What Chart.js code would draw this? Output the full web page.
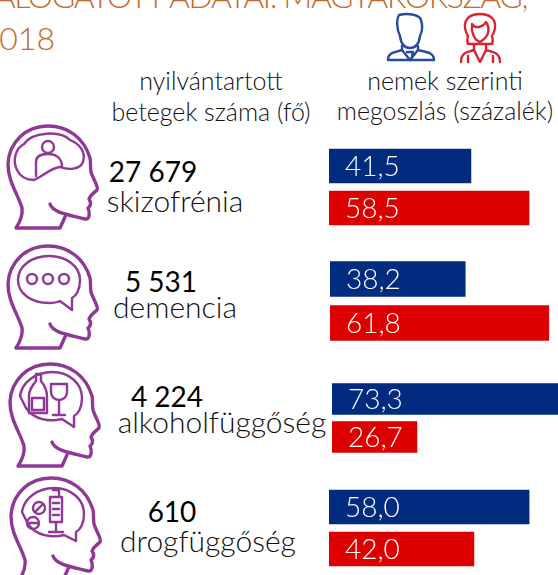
<!DOCTYPE html>
<html lang="hu">
<head>
<meta charset="utf-8">
<title>Nyilvántartott betegek</title>
<script src="https://cdn.jsdelivr.net/npm/chart.js@4/dist/chart.umd.min.js"></script>
<style>
    html, body { margin: 0; padding: 0; background: #fff; }
    #page { position: relative; width: 558px; height: 575px; overflow: hidden; }
    #page canvas { position: absolute; }
    #art { position: absolute; left: 0; top: 0; }
    #art text { font-family: Lato, "Open Sans", sans-serif; font-weight: 300; fill: #111; }
    #art text.title { fill: #c5692a; font-size: 32px; }
    #art text.title.first { letter-spacing: -1.4px; }
    #art text.head { font-size: 25px; }
    #art text.count { font-size: 28px; font-weight: 400; fill: #000; }
    #art text.name { font-size: 30px; }
    .ln { fill: none; stroke-width: 2.4; stroke-linejoin: round; stroke-linecap: round; }
    .purple { stroke: #8f3896; }
    .purple .thick { stroke-width: 3.4; }
</style>
</head>
<body>
<div id="page">
    <svg id="art" width="558" height="575" xmlns="http://www.w3.org/2000/svg">
        <defs>
            <!-- head outline shared by the four icons -->
            <g id="headShape" class="ln purple">
                <path class="thick" d="M50 84 C53 93 70 95 85 99 C90 100 90 92 88 88 C92 85 91 82 89 79 C90 75 93 74 97 70 C99 67 93 59 91 52 C90 47 91 42 90 38 C84 18 68 6 48 6 C26 6 9 22 8 44 C8 62 18 74 22 88 C23 96 20 102 16 108 H60 L65 97"/>
            </g>
        </defs>

        <!-- clipped title -->
        <text class="title first" x="527" y="8" text-anchor="end">VÁLOGATOTT ADATAI: MAGYARORSZÁG,</text>
        <text class="title" x="55" y="50" text-anchor="end">2018</text>

        <!-- man and woman icons -->
        <g class="ln" stroke="#2a4a9c">
            <path d="M399 15 C407 13 419 14 421 20 C423 26 422 32 420 36 C419 44 415 48 410 48 C405 48 401 44 400 36 C397 30 396 20 399 15 Z"/>
            <path d="M402 46 L402 50 C396 52 388 52 388 60 L434 60 C434 52 425 52 418 50 L418 46"/>
            <path d="M402 50 L410 60 L418 50 M407 52 H413 L411 60"/>
        </g>
        <g class="ln" stroke="#d9232e">
            <path d="M468 36 C462 26 464 14 480 14 C496 14 498 26 492 36 C493 40 493 42 492 44 L468 44 C467 42 467 40 468 36 Z"/>
            <path d="M472 24 C476 30 484 26 486 22 C490 28 490 36 480 42 C474 40 471 32 472 24 Z"/>
            <path d="M474 44 L474 50 C468 52 461 52 461 62 M486 44 L486 50 C492 52 500 52 500 62 M474 50 L480 62 L486 50 M468 56 V62 M493 56 V62"/>
        </g>

        <!-- column headings -->
        <text class="head" x="211" y="90" text-anchor="middle">nyilvántartott</text>
        <text class="head" x="211" y="121" text-anchor="middle">betegek száma (fő)</text>
        <text class="head" x="445" y="90" text-anchor="middle">nemek szerinti</text>
        <text class="head" x="445" y="120" text-anchor="middle">megoszlás (százalék)</text>

        <!-- head icons -->
        <g>
            <use href="#headShape" x="0" y="120"/>
            <g class="ln purple">
                <path d="M17 170 C12 160 16 148 24 144 C32 132 60 130 70 140 C80 144 86 152 83 162 C80 170 68 170 60 167 C50 168 44 176 34 180 C26 180 20 176 17 170 Z"/>
                <circle cx="48" cy="147" r="6"/>
                <path d="M36 176 V162 C36 156 42 154 48 154 C56 154 62 158 62 167"/>
            </g>
        </g>
        <g>
            <use href="#headShape" x="0" y="240"/>
            <g class="ln purple">
                <path d="M18 280 C18 266 32 256 49 256 C66 256 80 266 80 280 C80 290 76 296 72 298 L72 310 L60 301 C56 303 52 303 49 303 C32 303 18 294 18 280 Z"/>
                <circle cx="32" cy="279" r="5"/>
                <circle cx="48" cy="279" r="5"/>
                <circle cx="64" cy="279" r="5"/>
            </g>
        </g>
        <g>
            <use href="#headShape" x="2" y="358"/>
            <g class="ln purple">
                <path d="M20 396 C22 382 36 372 52 372 C70 372 82 384 82 398 C82 408 78 414 74 416 L74 427 L62 419 C50 422 34 420 26 408 Z"/>
                <path d="M36 374 H41 V381 C45 386 47 390 47 396 V413 H29 V396 C29 390 32 386 36 381 Z M32 398 H44 V410 H32 Z"/>
                <path d="M51 384 H67 V392 C67 397 63 400 59 400 C55 400 51 397 51 392 Z M59 400 V414 M53 415 H65"/>
            </g>
        </g>
        <g>
            <use href="#headShape" x="3" y="472"/>
            <g class="ln purple">
                <path d="M22 512 C24 498 38 488 54 488 C72 488 84 500 84 514 C84 524 80 530 76 532 L76 541 L64 535 C52 538 36 536 28 524 Z"/>
                <path d="M50 497 H62 V522 H50 Z M53 490 H59 V497 M56 522 V532 M49 532 H63 M53 503 H59 M53 509 H59 M53 515 H59"/>
                <circle cx="39" cy="508" r="6"/>
                <path d="M35 512 L43 504"/>
                <circle cx="33" cy="523" r="6"/>
                <path d="M27 523 H39"/>
            </g>
        </g>

        <!-- patient counts and diagnosis names, added by the script -->
        <g id="labels"></g>
    </svg>
</div>

<script>
// Values
const diagnoses = ['skizofrénia', 'demencia', 'alkoholfüggőség', 'drogfüggőség'];
const patients = ['27 679', '5 531', '4 224', '610'];
const sexes = ['férfi', 'nő'];
const maleShare = [41.5, 38.2, 73.3, 58.0];
const femaleShare = [58.5, 61.8, 26.7, 42.0];

const BLUE = '#002b7f';
const RED = '#dc0000';

// Each row of bars is its own small chart, the rows do not share a scale
const rows = [
    { left: 329, top: 145, height: 84, bar: 34, pxPerUnit: 3.42, countX: 153, countY: 182, nameX: 175, nameY: 212 },
    { left: 330, top: 257, height: 88, bar: 35, pxPerUnit: 3.54, countX: 161, countY: 292, nameX: 175, nameY: 318 },
    { left: 332, top: 380, height: 76, bar: 31, pxPerUnit: 3.18, countX: 167, countY: 407, nameX: 222, nameY: 433 },
    { left: 329, top: 486, height: 84, bar: 34, pxPerUnit: 3.45, countX: 172, countY: 522, nameX: 208, nameY: 552 }
];

// Writes the value inside each bar, near its start
const barValues = {
    id: 'barValues',
    afterDatasetsDraw(chart) {
        const { ctx } = chart;
        const meta = chart.getDatasetMeta(0);
        ctx.save();
        ctx.font = '300 28px Lato, "Open Sans", sans-serif';
        ctx.fillStyle = '#fff';
        ctx.textBaseline = 'alphabetic';
        meta.data.forEach((bar, i) => {
            const text = chart.data.datasets[0].data[i].toFixed(1).replace('.', ',');
            ctx.fillText(text, 16, bar.y + 10);
        });
        ctx.restore();
    }
};

const page = document.getElementById('page');

rows.forEach((row, i) => {
    const canvas = document.createElement('canvas');
    const width = 558 - row.left;
    canvas.style.left = row.left + 'px';
    canvas.style.top = row.top + 'px';
    canvas.style.width = width + 'px';
    canvas.style.height = row.height + 'px';
    canvas.width = width;
    canvas.height = row.height;
    page.appendChild(canvas);

    new Chart(canvas, {
        type: 'bar',
        data: {
            labels: sexes,
            datasets: [{
                data: [maleShare[i], femaleShare[i]],
                backgroundColor: [BLUE, RED],
                barThickness: row.bar
            }]
        },
        options: {
            indexAxis: 'y',
            responsive: false,
            animation: false,
            layout: { padding: 0 },
            scales: {
                x: { display: false, min: 0, max: width / row.pxPerUnit },
                y: { display: false }
            },
            plugins: {
                legend: { display: false },
                tooltip: { enabled: false }
            }
        },
        plugins: [barValues]
    });
});

// Patient counts and names beside the heads
const labels = document.getElementById('labels');

function addText(cls, x, y, str) {
    const el = document.createElementNS('http://www.w3.org/2000/svg', 'text');
    el.setAttribute('class', cls);
    el.setAttribute('x', x);
    el.setAttribute('y', y);
    el.setAttribute('text-anchor', 'middle');
    el.textContent = str;
    labels.appendChild(el);
}

rows.forEach((row, i) => {
    addText('count', row.countX, row.countY, patients[i]);
    addText('name', row.nameX, row.nameY, diagnoses[i]);
});
</script>
</body>
</html>
